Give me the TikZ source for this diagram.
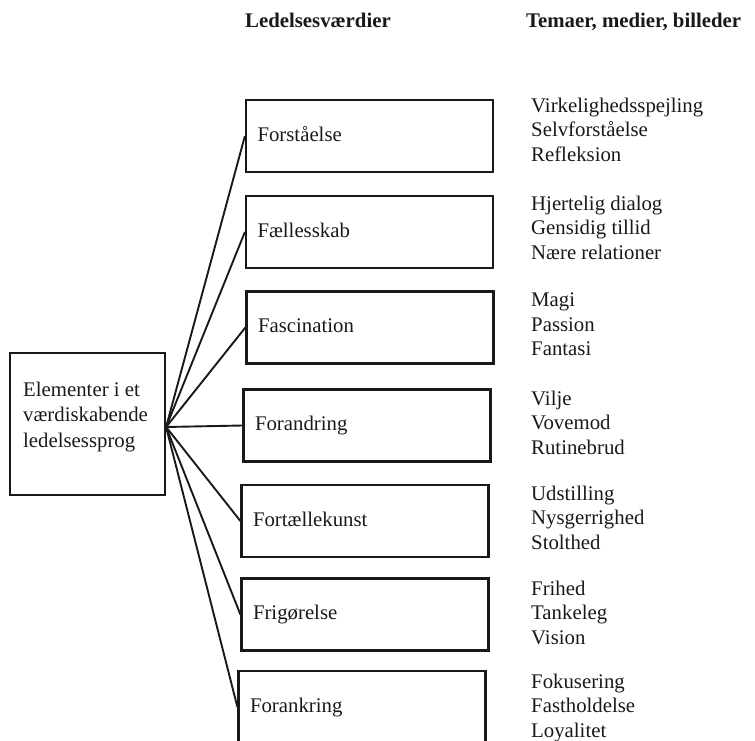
\documentclass[tikz,border=0pt]{standalone}
\usepackage{fontspec}
\setmainfont{Liberation Serif}
\begin{document}
\begin{tikzpicture}[x=1pt,y=-1pt,
  every node/.style={font=\fontsize{20.8}{24.5}\selectfont, inner sep=0pt, text=black!90},
  valbox/.style={draw=black!90, line width=2.2pt, minimum width=247pt, minimum height=72pt,
    text width=224pt, inner xsep=11.5pt, align=left, text height=14.5pt, text depth=4pt},
  rootbox/.style={draw=black!90, line width=2.2pt, minimum width=155pt, minimum height=142pt},
  header/.style={anchor=base west, font=\bfseries\fontsize{20.8}{24.5}\selectfont},
  themes/.style={anchor=north west, align=left},
  conn/.style={draw=black!90, line width=1.9pt}
]
\useasboundingbox (0,0) rectangle (755,741);

% headers
\node[header] (h1) at (245,28) {Ledelsesværdier};
\node[header] (h2) at (526,28) {Temaer, medier, billeder};

% root
\node[rootbox] (root) at (87.5,424) {};
\node[anchor=north west, align=left, font=\fontsize{20.8}{25.5}\selectfont] (roottxt) at (23,381.5)
  {Elementer i et\\værdiskabende\\ledelsessprog};
\coordinate (hub) at ([yshift=-3pt]root.east);

% value boxes
\node[valbox] (b1) at (369.5,136) {Forståelse};
\node[valbox] (b2) at (369.5,232) {Fællesskab};
\node[valbox] (b3) at (370,327.5) {Fascination};
\node[valbox] (b4) at (367,425.5) {Forandring};
\node[valbox] (b5) at (365,521) {Fortællekunst};
\node[valbox] (b6) at (365,614.5) {Frigørelse};
\node[valbox] (b7) at (362,707) {Forankring};

% connectors
\foreach \i in {1,...,7} \draw[conn] (hub) -- (b\i.west);

% themes
\node[themes] (t1) at (531,97.8) {Virkelighedsspejling\\Selvforståelse\\Refleksion};
\node[themes] (t2) at (531,195.8) {Hjertelig dialog\\Gensidig tillid\\Nære relationer};
\node[themes] (t3) at (531,292.8) {Magi\\Passion\\Fantasi};
\node[themes] (t4) at (531,390.8) {Vilje\\Vovemod\\Rutinebrud};
\node[themes] (t5) at (531,485.8) {Udstilling\\Nysgerrighed\\Stolthed};
\node[themes] (t6) at (531,580.8) {Frihed\\Tankeleg\\Vision};
\node[themes] (t7) at (531,673.8) {Fokusering\\Fastholdelse\\Loyalitet};
\end{tikzpicture}
\end{document}
